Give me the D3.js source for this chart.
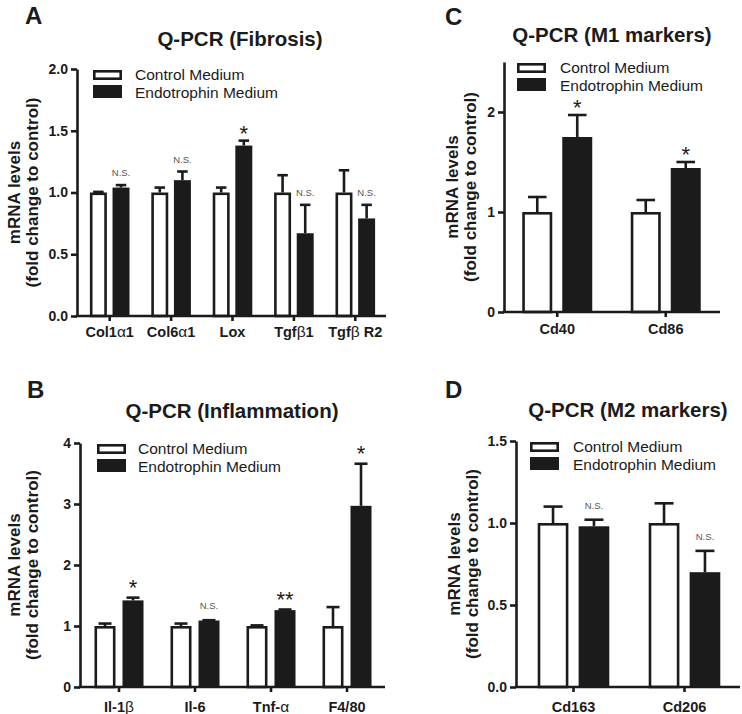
<!DOCTYPE html>
<html><head><meta charset="utf-8">
<script src="https://cdn.jsdelivr.net/npm/d3@7"></script>
<style>
body{margin:0;background:#fff}
svg{display:block}
text{font-family:"Liberation Sans",Arial,Helvetica,sans-serif}
</style>
</head><body>
<svg id="chart" width="742" height="714"></svg>
<script>
// ---------- data ----------
const seriesNames = ["Control Medium", "Endotrophin Medium"];

const fibrosisCategories = ["Col1α1", "Col6α1", "Lox", "Tgfβ1", "Tgfβ R2"];
const fibrosisControl    = [1.00, 1.00, 1.00, 1.00, 1.00];
const fibrosisControlErr = [0.005, 0.04, 0.04, 0.14, 0.18];
const fibrosisEndo       = [1.04, 1.10, 1.38, 0.67, 0.79];
const fibrosisEndoErr    = [0.02, 0.07, 0.04, 0.23, 0.11];
const fibrosisMarks      = ["N.S.", "N.S.", "*", "N.S.", "N.S."];
const fibrosisTicks      = [0, 0.5, 1.0, 1.5, 2.0];

const inflamCategories = ["Il-1β", "Il-6", "Tnf-α", "F4/80"];
const inflamControl    = [1.00, 1.00, 1.00, 1.00];
const inflamControlErr = [0.04, 0.04, 0.01, 0.31];
const inflamEndo       = [1.42, 1.09, 1.26, 2.97];
const inflamEndoErr    = [0.045, 0.005, 0.01, 0.69];
const inflamMarks      = ["*", "N.S.", "**", "*"];
const inflamTicks      = [0, 1, 2, 3, 4];

const m1Categories = ["Cd40", "Cd86"];
const m1Control    = [1.00, 1.00];
const m1ControlErr = [0.15, 0.12];
const m1Endo       = [1.75, 1.44];
const m1EndoErr    = [0.22, 0.06];
const m1Marks      = ["*", "*"];
const m1Ticks      = [0, 1, 2];

const m2Categories = ["Cd163", "Cd206"];
const m2Control    = [1.00, 1.00];
const m2ControlErr = [0.10, 0.12];
const m2Endo       = [0.98, 0.70];
const m2EndoErr    = [0.04, 0.13];
const m2Marks      = ["N.S.", "N.S."];
const m2Ticks      = [0, 0.5, 1.0, 1.5];

const yLabelLines = ["mRNA levels", "(fold change to control)"];

// ---------- drawing ----------
const INK = "#1b1b1b";
const SW = 2.6;
const svg = d3.select("#chart");

function addLabel(sel, label) {
  // Greek letters rendered in regular weight like the symbol font of the original
  label.split(/([α-ωΑ-Ω])/).filter(s => s.length).forEach(part => {
    sel.append("tspan").text(part)
      .attr("font-weight", /[α-ωΑ-Ω]/.test(part) ? "normal" : "bold")
      .attr("font-size", /[α-ωΑ-Ω]/.test(part) ? "15.5px" : null);
  });
}

function drawPanel(p) {
  const g = svg.append("g");
  const x = d3.scaleBand().domain(p.categories).range([p.bandL, p.bandR]);
  const y = d3.scaleLinear().domain([0, p.yMax]).range([p.yBottom, p.yTop]);
  const gw = x.step() * 0.645;
  const xi = d3.scaleBand().domain(["ctrl", "endo"]).range([-gw / 2, gw / 2]).paddingInner(0.25);
  const bw = xi.bandwidth();
  const rows = p.categories.map((c, i) => ({
    c, ctrl: p.control[i], ctrlErr: p.controlErr[i],
    endo: p.endo[i], endoErr: p.endoErr[i], mark: p.marks[i]
  }));
  const cx = d => x(d.c) + x.bandwidth() / 2;

  // panel letter and title
  g.append("text").attr("x", p.letterX).attr("y", p.letterY)
    .attr("font-size", "24px").attr("font-weight", "bold").attr("fill", INK).text(p.letter);
  g.append("text").attr("x", p.titleX).attr("y", p.titleY).attr("text-anchor", "middle")
    .attr("font-size", "20.5px").attr("font-weight", "bold").attr("fill", INK).text(p.title);

  // y label
  const cy = (p.yTop + p.yBottom) / 2;
  yLabelLines.forEach((t, k) => {
    g.append("text")
      .attr("transform", `translate(${p.ylabX[k]},${cy}) rotate(-90)`)
      .attr("text-anchor", "middle").attr("font-size", "17px").attr("font-weight", "bold")
      .attr("fill", INK).text(t);
  });

  // bars: control (open)
  g.selectAll(".ctrl").data(rows).join("rect")
    .attr("x", d => cx(d) + xi("ctrl") + SW / 2)
    .attr("width", bw - SW)
    .attr("y", d => y(d.ctrl) + SW / 2)
    .attr("height", d => y(0) - y(d.ctrl) - SW / 2)
    .attr("fill", "#fff").attr("stroke", INK).attr("stroke-width", SW);
  // bars: endotrophin (filled)
  g.selectAll(".endo").data(rows).join("rect")
    .attr("x", d => cx(d) + xi("endo"))
    .attr("width", bw)
    .attr("y", d => y(d.endo))
    .attr("height", d => y(0) - y(d.endo))
    .attr("fill", INK);

  // error bars (upper only)
  const capW = bw * 0.62;
  [["ctrl", "ctrlErr"], ["endo", "endoErr"]].forEach(([k, e]) => {
    const ex = d => cx(d) + xi(k) + bw / 2;
    g.selectAll(".ev" + k).data(rows).join("line")
      .attr("x1", ex).attr("x2", ex)
      .attr("y1", d => y(d[k])).attr("y2", d => y(d[k] + d[e]))
      .attr("stroke", INK).attr("stroke-width", SW);
    g.selectAll(".ec" + k).data(rows).join("line")
      .attr("x1", d => ex(d) - capW / 2).attr("x2", d => ex(d) + capW / 2)
      .attr("y1", d => y(d[k] + d[e])).attr("y2", d => y(d[k] + d[e]))
      .attr("stroke", INK).attr("stroke-width", SW);
  });

  // significance marks
  g.selectAll(".mk").data(rows).join("text")
    .attr("x", d => cx(d) + xi("endo") + bw / 2)
    .attr("y", d => {
      const c = y(d.endo + d.endoErr) - p.markGap;
      return d.mark === "N.S." ? c + 3.4 : c + 12.6;
    })
    .attr("text-anchor", "middle")
    .attr("font-size", d => d.mark === "N.S." ? "9.5px" : "22px")
    .attr("fill", d => d.mark === "N.S." ? "#555" : INK)
    .text(d => d.mark);

  // y axis
  const ya = g.append("g").attr("transform", `translate(${p.axisX},0)`)
    .call(d3.axisLeft(y).tickValues(p.ticks).tickFormat(d3.format(p.fmt)).tickSize(6).tickPadding(3).tickSizeOuter(0));
  ya.select(".domain").attr("stroke", INK).attr("stroke-width", SW);
  ya.selectAll(".tick line").attr("stroke", INK).attr("stroke-width", SW);
  ya.selectAll(".tick text").attr("font-size", "14px").attr("font-weight", "bold").attr("fill", INK)
    .attr("font-family", "Liberation Sans, Arial, sans-serif");

  // x axis
  const xa = g.append("g").attr("transform", `translate(0,${p.yBottom})`)
    .call(d3.axisBottom(x).tickSize(5).tickSizeOuter(0).tickFormat(""));
  xa.select(".domain").remove();
  xa.selectAll(".tick line").attr("stroke", INK).attr("stroke-width", SW);
  g.append("line").attr("x1", p.axisX - SW / 2).attr("x2", p.bandR)
    .attr("y1", p.yBottom).attr("y2", p.yBottom).attr("stroke", INK).attr("stroke-width", SW);
  g.selectAll(".xl").data(rows).join("text")
    .attr("x", cx).attr("y", p.yBottom + p.xLabGap)
    .attr("text-anchor", "middle").attr("font-size", "14.5px").attr("fill", INK)
    .each(function (d) { addLabel(d3.select(this), d.c); });

  // legend
  const lx = p.axisX + p.legDX;
  g.append("rect").attr("x", lx + SW / 2).attr("y", p.yTop + 1 + SW / 2)
    .attr("width", 29 - SW).attr("height", 10 - SW)
    .attr("fill", "#fff").attr("stroke", INK).attr("stroke-width", SW);
  g.append("rect").attr("x", lx).attr("y", p.yTop + 16).attr("width", 29).attr("height", 13).attr("fill", INK);
  seriesNames.forEach((s, k) => {
    g.append("text").attr("x", p.axisX + p.legTX).attr("y", p.yTop + 11 + k * 17.5)
      .attr("font-size", "15.5px").attr("fill", INK).text(s);
  });
}

drawPanel({
  letter: "A", letterX: 25, letterY: 24, title: "Q-PCR (Fibrosis)", titleX: 240, titleY: 46,
  categories: fibrosisCategories, control: fibrosisControl, controlErr: fibrosisControlErr,
  endo: fibrosisEndo, endoErr: fibrosisEndoErr, marks: fibrosisMarks, ticks: fibrosisTicks, fmt: ".1f",
  yMax: 2.0, axisX: 77, bandL: 79, bandR: 386, yTop: 69, yBottom: 316,
  ylabX: [20, 38], markGap: 12, xLabGap: 21, legDX: 16, legTX: 58
});
drawPanel({
  letter: "B", letterX: 27, letterY: 398, title: "Q-PCR (Inflammation)", titleX: 232, titleY: 418,
  categories: inflamCategories, control: inflamControl, controlErr: inflamControlErr,
  endo: inflamEndo, endoErr: inflamEndoErr, marks: inflamMarks, ticks: inflamTicks, fmt: "d",
  yMax: 4, axisX: 80, bandL: 81, bandR: 385, yTop: 443, yBottom: 687,
  ylabX: [20, 38], markGap: 15, xLabGap: 25, legDX: 17, legTX: 58
});
drawPanel({
  letter: "C", letterX: 445, letterY: 25, title: "Q-PCR (M1 markers)", titleX: 612, titleY: 42,
  categories: m1Categories, control: m1Control, controlErr: m1ControlErr,
  endo: m1Endo, endoErr: m1EndoErr, marks: m1Marks, ticks: m1Ticks, fmt: "d",
  yMax: 2.5, axisX: 504, bandL: 503, bandR: 720, yTop: 62, yBottom: 312,
  ylabX: [458, 476], markGap: 13, xLabGap: 22, legDX: 13, legTX: 56
});
drawPanel({
  letter: "D", letterX: 445, letterY: 398, title: "Q-PCR (M2 markers)", titleX: 628, titleY: 417,
  categories: m2Categories, control: m2Control, controlErr: m2ControlErr,
  endo: m2Endo, endoErr: m2EndoErr, marks: m2Marks, ticks: m2Ticks, fmt: ".1f",
  yMax: 1.5, axisX: 516, bandL: 518, bandR: 740, yTop: 441, yBottom: 687,
  ylabX: [460, 478], markGap: 14, xLabGap: 25, legDX: 14, legTX: 57
});
</script>
</body></html>
